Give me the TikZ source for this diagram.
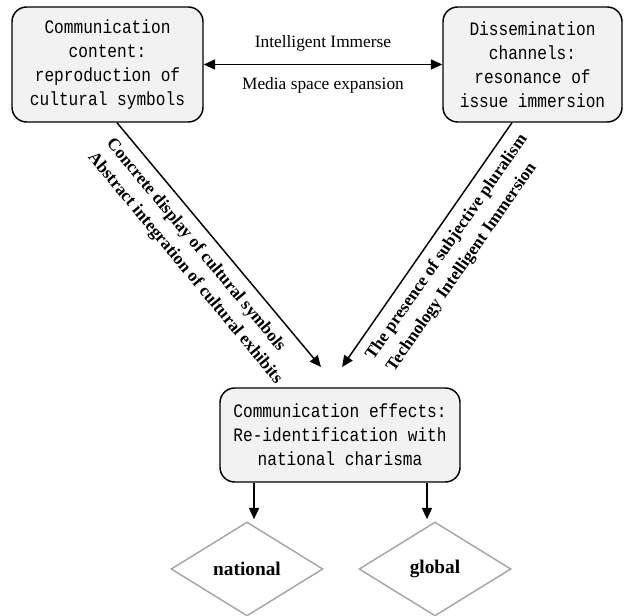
\documentclass[tikz,border=0pt]{standalone}
\usepackage{fontspec}
\setmainfont{Liberation Serif}
\newfontfamily\boxfont[FakeStretch=0.85]{Liberation Mono}
\usetikzlibrary{arrows.meta,shapes.geometric}
\definecolor{boxfill}{HTML}{F2F2F2}
\definecolor{dgray}{HTML}{A6A6A6}
\tikzset{
  mainbox/.style={draw=black, line width=1.1pt, fill=boxfill, rounded corners=11pt,
    align=center, inner sep=0pt, font=\boxfont\fontsize{14.25}{18}\selectfont},
  arr/.style={line width=1.1pt, -{Triangle[length=8.5pt,width=7.5pt]}},
  dblarr/.style={line width=1.1pt, {Triangle[length=8.5pt,width=7.5pt]}-{Triangle[length=8.5pt,width=7.5pt]}},
  lab/.style={font=\fontsize{13}{15}\selectfont, inner sep=0pt},
  blab/.style={font=\bfseries\fontsize{13}{15}\selectfont, inner sep=0pt},
  dia/.style={diamond, draw=dgray, line width=1.1pt, fill=white, inner sep=0pt,
    minimum width=114pt, minimum height=70.5pt, font=\bfseries\fontsize{14.5}{16}\selectfont}
}
\begin{document}
\begin{tikzpicture}[x=0.75pt,y=-0.75pt]
\useasboundingbox (0,0) rectangle (624,616);
% boxes
\node[mainbox, minimum width=143.25pt, minimum height=86.25pt] (lbox) at (107.5,64.5)
  {Communication\\content:\\reproduction of\\cultural symbols};
\node[mainbox, minimum width=134.25pt, minimum height=86.25pt] (rbox) at (532.5,64.5)
  {Dissemination\\channels:\\resonance of\\issue immersion};
\node[mainbox, minimum width=180pt, minimum height=70.5pt] (bbox) at (340,435)
  {Communication effects:\\Re-identification with\\national charisma};
% diamonds
\node[dia] (nat) at (247,569) {national};
\node[dia] (glob) at (435,569) {global};
% top double arrow
\draw[dblarr] (lbox.east) -- (rbox.west);
\node[lab] (l1) at (323,43) {Intelligent Immerse};
\node[lab] (l2) at (323,85) {Media space expansion};
% diagonal connectors
\coordinate (tL) at (321,367);
\coordinate (tR) at (342,367);
\draw[arr] ([xshift=7.1pt]lbox.south) -- (tL);
\draw[arr] ([xshift=-15.4pt]rbox.south) -- (tR);
\node[blab, rotate=-50.35] (c1) at (195.6,245.2) {Concrete display of cultural symbols};
\node[blab, rotate=-50.35] (c2) at (184.9,268.3) {Abstract integration of cultural exhibits};
\node[blab, rotate=55.2] (d1) at (446.9,247.4) {The presence of subjective pluralism};
\node[blab, rotate=55.2] (d2) at (462,267.6) {Technology Intelligent Immersion};
% bottom arrows
\draw[arr] ([xshift=-64.5pt]bbox.south) -- ([xshift=5.25pt,yshift=1.5pt]nat.north);
\draw[arr] ([xshift=65.25pt]bbox.south) -- ([xshift=-6pt,yshift=1.5pt]glob.north);
\end{tikzpicture}
\end{document}
